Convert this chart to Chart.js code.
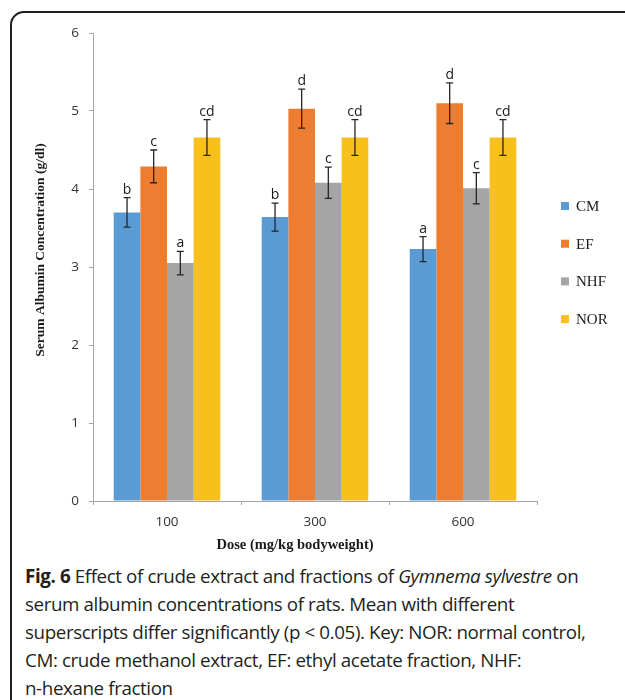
<!DOCTYPE html>
<html lang="en">
  <head>
    <meta charset="UTF-8" />
    <title>Serum albumin</title>
    <script src="https://cdn.jsdelivr.net/npm/chart.js"></script>
    <style>
      body {
        margin: 0;
        width: 625px;
        height: 700px;
        overflow: hidden;
        background: #fff;
        position: relative;
      }
      #frame {
        position: absolute;
        left: 10px;
        top: 11px;
        width: 660px;
        height: 740px;
        border: 2px solid #231f20;
        border-radius: 14px;
      }
      #chart {
        position: absolute;
        left: 0;
        top: 0;
      }
      #caption {
        position: absolute;
        left: 25px;
        top: 562px;
        font-family: "Open Sans", sans-serif;
        font-size: 18.8px;
        line-height: 28px;
        letter-spacing: -0.4px;
        color: #231f20;
        white-space: nowrap;
      }
    </style>
  </head>
  <body>
    <div id="frame"></div>
    <canvas id="chart" width="625" height="560"></canvas>
    <div id="caption">
      <b>Fig. 6</b> Effect of crude extract and fractions of <i>Gymnema sylvestre</i> on<br />
      serum albumin concentrations of rats. Mean with different<br />
      superscripts differ significantly (p &lt; 0.05). Key: NOR: normal control,<br />
      CM: crude methanol extract, EF: ethyl acetate fraction, NHF:<br />
      n-hexane fraction
    </div>

    <script>
      const doses = ["100", "300", "600"];

      const cmMeans = [3.7, 3.64, 3.23];
      const efMeans = [4.29, 5.03, 5.1];
      const nhfMeans = [3.05, 4.08, 4.01];
      const norMeans = [4.66, 4.66, 4.66];

      const cmErr = [0.19, 0.18, 0.16];
      const efErr = [0.21, 0.25, 0.26];
      const nhfErr = [0.15, 0.2, 0.2];
      const norErr = [0.23, 0.23, 0.23];

      const cmLetters = ["b", "b", "a"];
      const efLetters = ["c", "d", "d"];
      const nhfLetters = ["a", "c", "c"];
      const norLetters = ["cd", "cd", "cd"];

      const yTicks = [0, 1, 2, 3, 4, 5, 6];

      const axisGray = "#a6a6a6";

      // error bars + letters on top of each bar
      const errorBars = {
        id: "errorBars",
        afterDatasetsDraw(chart) {
          const ctx = chart.ctx;
          const y = chart.scales.y;
          chart.data.datasets.forEach((ds, i) => {
            const meta = chart.getDatasetMeta(i);
            meta.data.forEach((bar, j) => {
              const top = y.getPixelForValue(ds.data[j] + ds.errors[j]);
              const bot = y.getPixelForValue(ds.data[j] - ds.errors[j]);
              ctx.save();
              ctx.strokeStyle = "#262626";
              ctx.lineWidth = 1.3;
              ctx.beginPath();
              ctx.moveTo(bar.x, top);
              ctx.lineTo(bar.x, bot);
              ctx.moveTo(bar.x - 3.5, top);
              ctx.lineTo(bar.x + 3.5, top);
              ctx.moveTo(bar.x - 3.5, bot);
              ctx.lineTo(bar.x + 3.5, bot);
              ctx.stroke();
              ctx.fillStyle = "#1a1a1a";
              ctx.font = "14px 'Open Sans'";
              ctx.textAlign = "center";
              ctx.textBaseline = "alphabetic";
              ctx.fillText(ds.letters[j], bar.x, top - 4);
              ctx.restore();
            });
          });
        },
      };

      // axis titles and the legend on the right
      const extras = {
        id: "extras",
        afterDraw(chart) {
          const ctx = chart.ctx;
          ctx.save();
          ctx.fillStyle = "#1a1a1a";
          ctx.textAlign = "center";
          ctx.textBaseline = "middle";
          ctx.font = "bold 14.5px 'Liberation Serif'";
          ctx.fillText("Dose (mg/kg bodyweight)", 295, 545);
          ctx.font = "bold 13.5px 'Liberation Serif'";
          ctx.translate(41, 250);
          ctx.rotate(-Math.PI / 2);
          ctx.fillText("Serum Albumin Concentration (g/dl)", 0, 0);
          ctx.restore();

          ctx.save();
          ctx.font = "15px 'Liberation Serif'";
          ctx.textBaseline = "middle";
          ctx.textAlign = "left";
          chart.data.datasets.forEach((ds, i) => {
            const cy = 206 + i * 37.7;
            ctx.fillStyle = ds.backgroundColor;
            ctx.fillRect(561, cy - 4, 8, 8);
            ctx.fillStyle = "#1a1a1a";
            ctx.fillText(ds.label, 576, cy + 1);
          });
          ctx.restore();
        },
      };

      new Chart(document.getElementById("chart"), {
        type: "bar",
        data: {
          labels: doses,
          datasets: [
            { label: "CM", data: cmMeans, errors: cmErr, letters: cmLetters, backgroundColor: "#5b9bd5" },
            { label: "EF", data: efMeans, errors: efErr, letters: efLetters, backgroundColor: "#ed7d31" },
            { label: "NHF", data: nhfMeans, errors: nhfErr, letters: nhfLetters, backgroundColor: "#a5a5a5" },
            { label: "NOR", data: norMeans, errors: norErr, letters: norLetters, backgroundColor: "#f8bf1d" },
          ],
        },
        options: {
          responsive: false,
          animation: false,
          devicePixelRatio: 1,
          layout: { padding: { left: 0, right: 88, top: 33, bottom: 0 } },
          datasets: { bar: { categoryPercentage: 0.72, barPercentage: 1 } },
          plugins: { legend: { display: false }, tooltip: { enabled: false } },
          scales: {
            x: {
              grid: { offset: true, drawOnChartArea: false, tickLength: 4, color: axisGray },
              border: { color: axisGray },
              ticks: { color: "#333", padding: 9, font: { family: "Open Sans", size: 13.5 } },
              afterFit: (s) => { s.height = 59; },
            },
            y: {
              min: 0,
              max: 6,
              afterBuildTicks: (s) => { s.ticks = yTicks.map((v) => ({ value: v })); },
              grid: { drawOnChartArea: false, tickLength: 4, color: axisGray },
              border: { color: axisGray },
              ticks: { color: "#333", padding: 10, font: { family: "Open Sans", size: 13.5 } },
              afterFit: (s) => { s.width = 93; },
            },
          },
        },
        plugins: [errorBars, extras],
      });
    </script>
  </body>
</html>
